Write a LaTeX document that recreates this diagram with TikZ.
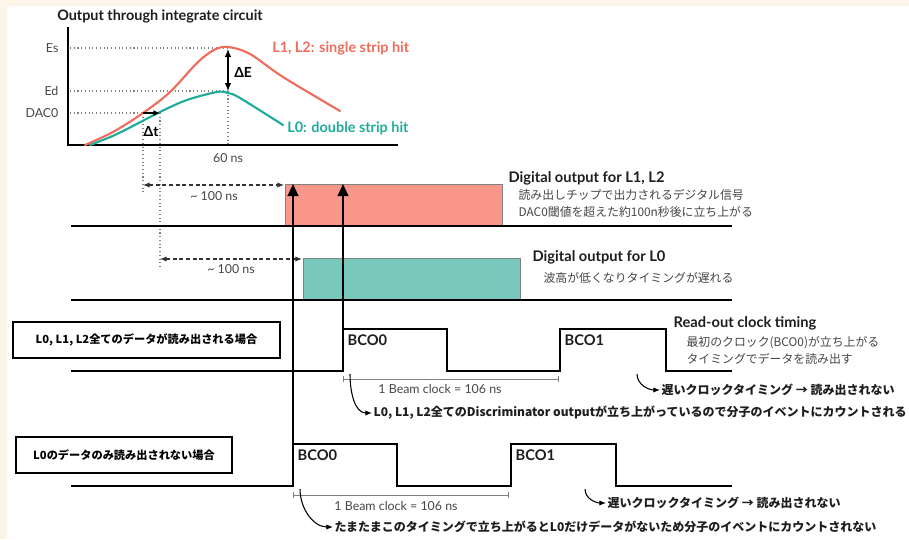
\documentclass[tikz,border=0pt]{standalone}
\usepackage{fontspec}
\setmainfont{Lato}
\newfontfamily\jp{Noto Sans CJK JP}
\usetikzlibrary{arrows.meta}
\definecolor{cream}{RGB}{253,245,232}
\definecolor{redline}{RGB}{240,108,92}
\definecolor{tealline}{RGB}{30,172,155}
\definecolor{redfill}{RGB}{249,152,138}
\definecolor{tealfill}{RGB}{120,200,188}
\definecolor{txt}{RGB}{30,30,30}
\definecolor{soft}{RGB}{70,70,70}
\tikzset{
  wire/.style={line width=1.9pt, black},
  thinbox/.style={line width=1.5pt, black},
  guide/.style={line width=0.8pt, gray, dotted},
  dimarrow/.style={line width=0.8pt, black!80, densely dashed, {Latex[length=5pt,width=4pt]}-{Latex[length=5pt,width=4pt]}},
  bracket/.style={line width=0.6pt, gray, {Bar[width=5pt]}-{Bar[width=5pt]}},
  uparrow/.style={line width=1.6pt, black, -{Triangle[length=9pt,width=8pt]}},
  curvearrow/.style={line width=0.8pt, black, -{Latex[length=5pt,width=4pt]}},
  smalltxt/.style={font=\fontsize{9.3}{11}\selectfont, text=soft, inner sep=1pt},
  headtxt/.style={font=\fontsize{11}{13}\selectfont\bfseries, text=txt, inner sep=1pt, anchor=west},
  jptxt/.style={font=\jp\fontsize{8.9}{10}\selectfont, text=soft, inner sep=1pt, anchor=west},
  jpbold/.style={font=\jp\bfseries\fontsize{9}{10}\selectfont, text=txt, inner sep=1pt, anchor=west},
  bcotxt/.style={font=\fontsize{11}{13}\selectfont\bfseries, text=txt, inner sep=1pt, anchor=west},
}
\begin{document}
\begin{tikzpicture}[x=0.75pt,y=-0.75pt]
\useasboundingbox (0,0) rectangle (909,539);
\clip (0,0) rectangle (909,539);
\fill[cream] (0,0) rectangle (909,539);
\fill[white] (7,6) rectangle (909,539);

% ---------- integrate circuit plot ----------
\node[font=\fontsize{10.8}{12}\selectfont\bfseries, text=txt, anchor=west, inner sep=0pt] (title) at (57,16) {Output through integrate circuit};
\draw[guide] (70,48) -- (228,48);
\draw[guide] (70,91) -- (228,91);
\draw[guide] (70,113) -- (143,113);
\draw[guide] (143,113) -- (143,192);
\draw[guide] (160,113) -- (160,267);
\draw[guide] (228,91) -- (228,145);
\draw[line width=2pt] (68,27) -- (68,145) -- (398,145);
\node[smalltxt, anchor=east] (es) at (60,48) {Es};
\node[smalltxt, anchor=east] (ed) at (60,91) {Ed};
\node[smalltxt, anchor=east] (dac) at (60,113) {DAC0};
\node[smalltxt] (sixty) at (228,158) {60 ns};
\draw[redline, line width=1.6pt, line cap=round] plot[smooth, tension=0.55] coordinates {(85,145) (113,132) (143,113) (170,92) (197,63) (214,50) (228,47) (250,54) (283,77) (340,111)};
\draw[tealline, line width=1.6pt, line cap=round] plot[smooth, tension=0.55] coordinates {(90,145) (117,134) (160,112) (187,100) (217,92) (228,93) (240,98) (283,125)};
\coordinate (esp) at (228,49);
\coordinate (edp) at (228,91);
\draw[line width=1pt, {Latex[length=6pt,width=5pt]}-{Latex[length=6pt,width=5pt]}] (esp) -- (edp);
\node[font=\fontsize{10.4}{12}\selectfont\bfseries, anchor=west, inner sep=0pt] (dE) at (234,72) {ΔE};
\coordinate (t0) at (143,113);
\coordinate (t1) at (160,113);
\draw[line width=1pt, -{Latex[length=5pt,width=4.5pt]}] (t0) -- (t1);
\node[font=\fontsize{10.4}{12}\selectfont\bfseries, inner sep=0pt] (dt) at (151,132) {Δt};
\node[font=\fontsize{10.8}{12}\selectfont\bfseries, text=redline, anchor=west, inner sep=0pt] (lred) at (272,48) {L1, L2: single strip hit};
\node[font=\fontsize{10.8}{12}\selectfont\bfseries, text=tealline, anchor=west, inner sep=0pt] (lteal) at (287,128) {L0: double strip hit};

% ---------- digital outputs ----------
\coordinate (d1a) at (143,185);
\coordinate (d1b) at (284,185);
\draw[dimarrow] (d1a) -- (d1b);
\node[smalltxt] (n100a) at (214,196) {\textasciitilde{} 100 ns};
\filldraw[fill=redfill, draw=gray, line width=0.7pt] (285,226) rectangle (502,184);
\draw[wire] (71,226) -- (732,226);
\node[headtxt] (h1) at (507,178) {Digital output for L1, L2};
\node[jptxt] (j1) at (517,195) {読み出しチップで出力されるデジタル信号};
\node[jptxt] (j2) at (517,212) {DAC0閾値を超えた約100n秒後に立ち上がる};

\coordinate (d2a) at (160,259);
\coordinate (d2b) at (302,259);
\draw[dimarrow] (d2a) -- (d2b);
\node[smalltxt] (n100b) at (231,269) {\textasciitilde{} 100 ns};
\filldraw[fill=tealfill, draw=gray, line width=0.7pt] (303,300) rectangle (520,258);
\draw[wire] (71,300) -- (732,300);
\node[headtxt] (h2) at (531,257) {Digital output for L0};
\node[jptxt] (j3) at (542,278) {波高が低くなりタイミングが遅れる};

% ---------- read-out clock (case 1) ----------
\node[draw, thinbox, minimum width=267*0.75pt, minimum height=36*0.75pt, inner sep=0pt, font=\jp\bfseries\fontsize{8.4}{10}\selectfont] (case1) at (146.5,340) {L0, L1, L2全てのデータが読み出される場合};
\draw[wire] (71,371) -- (343,371) -- (343,329) -- (447,329) -- (447,371) -- (560,371) -- (560,329) -- (666,329) -- (666,371) -- (732,371);
\node[bcotxt] (bco0a) at (346,340) {BCO0};
\node[bcotxt] (bco1a) at (563,340) {BCO1};
\node[headtxt] (h3) at (672,323) {Read-out clock timing};
\node[jptxt] (j4) at (685,343) {最初のクロック(BCO0)が立ち上がる};
\node[jptxt] (j5) at (685,359) {タイミングでデータを読み出す};
\coordinate (bk1a) at (343,379);
\coordinate (bk1b) at (559,379);
\draw[bracket] (bk1a) -- (bk1b);
\node[smalltxt] (beam1) at (440,389) {1 Beam clock = 106 ns};
\node[jpbold] (c1) at (372,413) {L0, L1, L2全てのDiscriminator outputが立ち上がっているので分子のイベントにカウントされる};
\draw[curvearrow] (350,374) to[out=-90,in=180] (c1.west);
\node[jpbold] (late1) at (660,390) {遅いクロックタイミング → 読み出されない};
\draw[curvearrow] (637,374) to[out=-90,in=180] (late1.west);

% ---------- read-out clock (case 2) ----------
\node[draw, thinbox, minimum width=216*0.75pt, minimum height=36*0.75pt, inner sep=0pt, font=\jp\bfseries\fontsize{8.4}{10}\selectfont] (case2) at (124,455) {L0のデータのみ読み出されない場合};
\draw[wire] (71,486) -- (293,486) -- (293,444) -- (397,444) -- (397,486) -- (511,486) -- (511,444) -- (616,444) -- (616,486) -- (732,486);
\node[bcotxt] (bco0b) at (296,455) {BCO0};
\node[bcotxt] (bco1b) at (514,455) {BCO1};
\coordinate (bk2a) at (293,495);
\coordinate (bk2b) at (509,495);
\draw[bracket] (bk2a) -- (bk2b);
\node[smalltxt] (beam2) at (396,506) {1 Beam clock = 106 ns};
\node[jpbold] (c2) at (333,527) {たまたまこのタイミングで立ち上がるとL0だけデータがないため分子のイベントにカウントされない};
\draw[curvearrow] (300,489) to[out=-90,in=180] (c2.west);
\node[jpbold] (late2) at (606,503) {遅いクロックタイミング → 読み出されない};
\draw[curvearrow] (585,489) to[out=-90,in=180] (late2.west);

% ---------- vertical trigger arrows ----------
\coordinate (v1b) at (293,444);
\coordinate (v1t) at (293,184);
\coordinate (v2b) at (343,329);
\coordinate (v2t) at (343,184);
\draw[uparrow] (v1b) -- (v1t);
\draw[uparrow] (v2b) -- (v2t);
\end{tikzpicture}
\end{document}
